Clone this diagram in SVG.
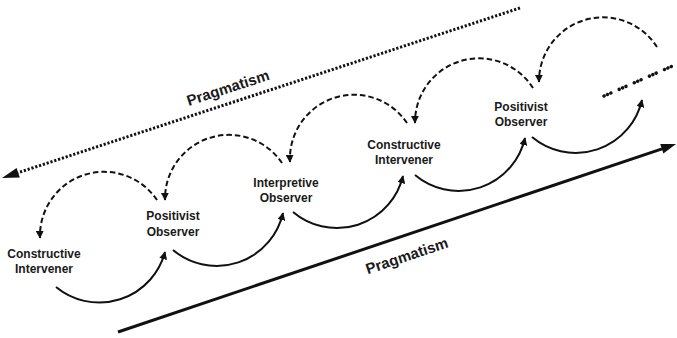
<svg xmlns="http://www.w3.org/2000/svg" width="677" height="338" viewBox="0 0 677 338">
<defs>
<marker id="ah" viewBox="0 0 10 10" refX="9" refY="5" markerWidth="8" markerHeight="8" markerUnits="userSpaceOnUse" orient="auto">
<path d="M0,0 L10,5 L0,10 Z" fill="#111"/>
</marker>
</defs>
<style>
.lbl{font-family:"Liberation Sans",Arial,sans-serif;font-size:12px;font-weight:bold;fill:#1a1a1a;text-anchor:middle}
.prag{font-family:"Liberation Sans",Arial,sans-serif;font-size:15px;font-weight:bold;fill:#1a1a1a;text-anchor:middle}
.solid{fill:none;stroke:#111;stroke-width:2;marker-end:url(#ah)}
.dash{fill:none;stroke:#111;stroke-width:2;stroke-dasharray:5.5 3;marker-end:url(#ah)}
</style>
<rect width="677" height="338" fill="#fff"/>
<g id="connectors">
<path class="solid" d="M56,287 A68,68 0 0 0 165,252"/>
<path class="solid" d="M173,250 A68,68 0 0 0 283,213"/>
<path class="solid" d="M293,212 A68,68 0 0 0 403,176"/>
<path class="solid" d="M415,175 A68,68 0 0 0 525,138"/>
<path class="solid" d="M532,137 A68,68 0 0 0 642,100"/>
<path class="dash" d="M157,200 A64,64 0 0 0 40,238"/>
<path class="dash" d="M282,163 A64,64 0 0 0 165,200"/>
<path class="dash" d="M407,123 A64,64 0 0 0 290,162"/>
<path class="dash" d="M533,88 A64,64 0 0 0 415,123"/>
<path class="dash" d="M657,47 A64,64 0 0 0 539,82"/>
</g>
<g id="pragmatism-down">
<line x1="520" y1="8" x2="18" y2="172.7" stroke="#111" stroke-width="3" stroke-dasharray="2.2 1.8"/>
<polygon points="2,178 19.8,177.4 16.6,167.9" fill="#111"/>
<text class="prag" transform="translate(229.5,92.7) rotate(-18)">Pragmatism</text>
</g>
<g id="pragmatism-up">
<line x1="118" y1="332" x2="662" y2="148.8" stroke="#111" stroke-width="3"/>
<polygon points="676,144 663.4,153.5 660.2,144.1" fill="#111"/>
<text class="prag" transform="translate(408.5,260.7) rotate(-18.5)">Pragmatism</text>
</g>
<g id="continuation">
<line x1="604" y1="96" x2="677" y2="64" stroke="#111" stroke-width="3.5" stroke-dasharray="0.1 3.6 0.1 3.6 0.1 9" stroke-linecap="round"/>
</g>
<g id="n1"><text class="lbl" x="44" y="258">Constructive</text><text class="lbl" x="44" y="273">Intervener</text></g>
<g id="n2"><text class="lbl" x="173" y="220">Positivist</text><text class="lbl" x="173" y="236">Observer</text></g>
<g id="n3"><text class="lbl" x="286" y="187">Interpretive</text><text class="lbl" x="286" y="202">Observer</text></g>
<g id="n4"><text class="lbl" x="404" y="149">Constructive</text><text class="lbl" x="404" y="164">Intervener</text></g>
<g id="n5"><text class="lbl" x="521" y="111">Positivist</text><text class="lbl" x="521" y="126">Observer</text></g>
</svg>
